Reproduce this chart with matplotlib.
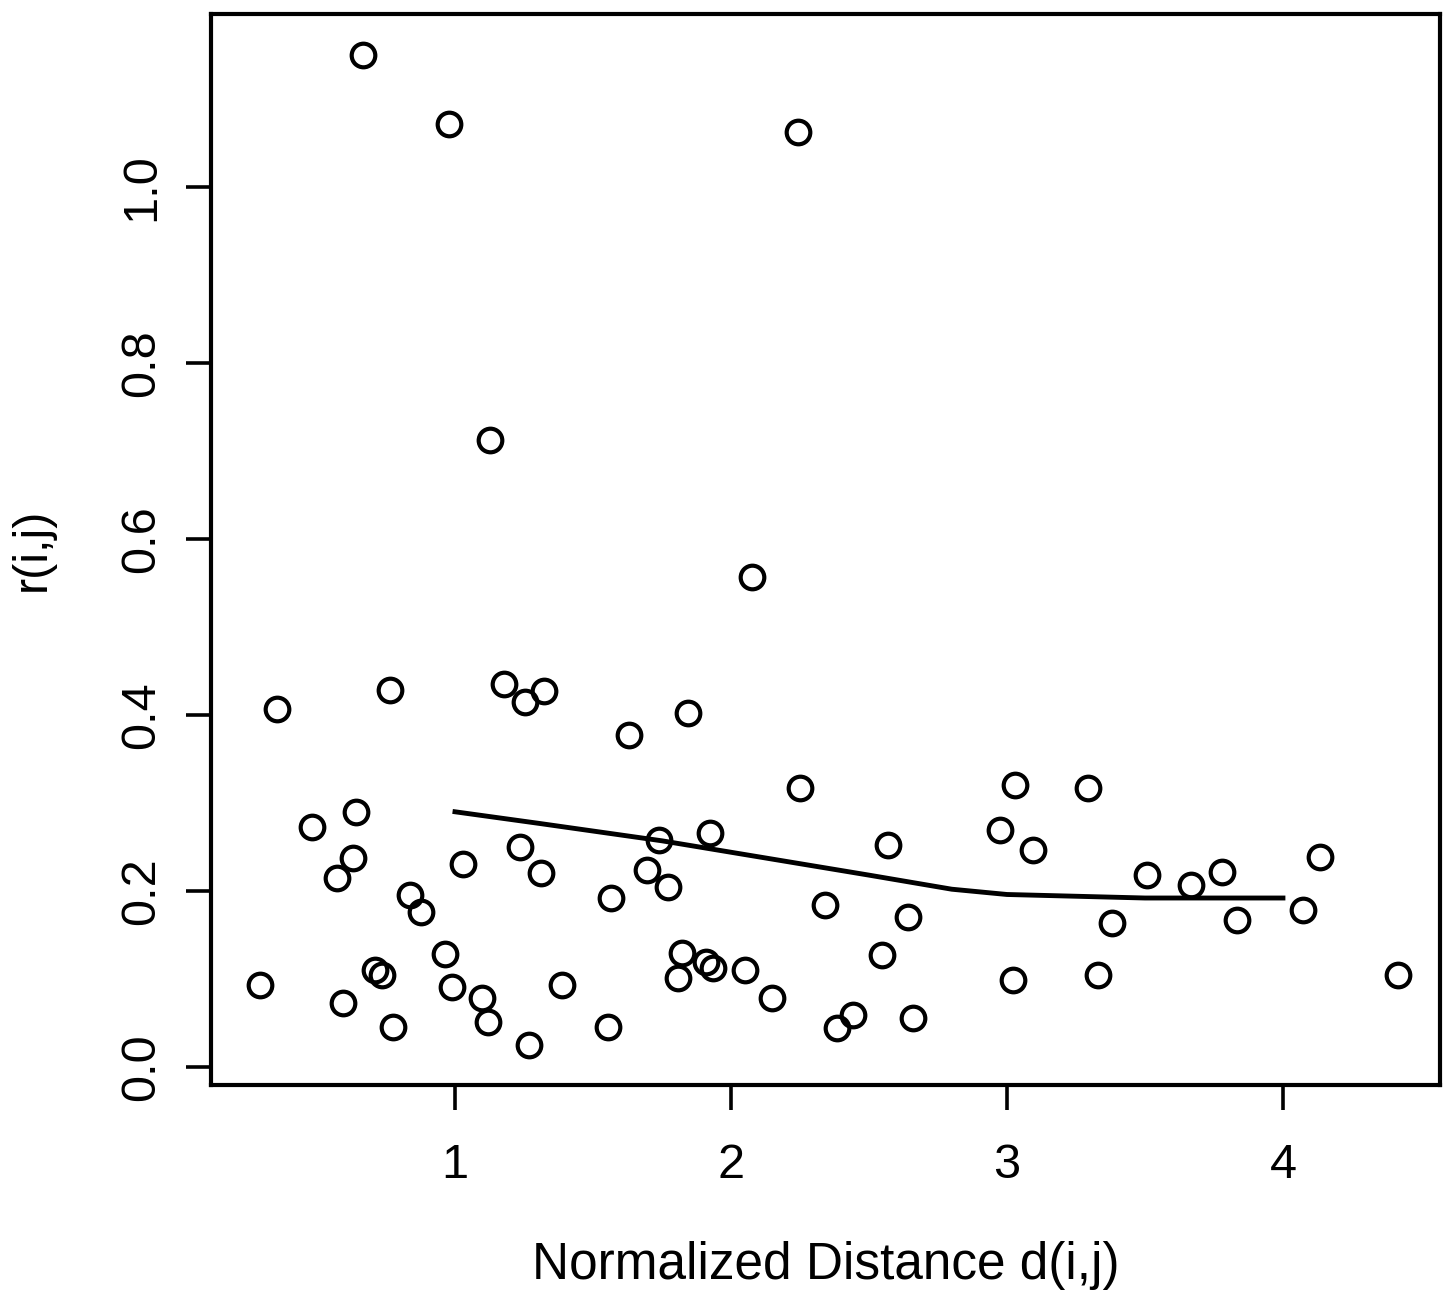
import matplotlib
matplotlib.use("Agg")
import matplotlib.pyplot as plt

# pairwise normalized distance vs. r(i,j)
dist = [0.293, 0.355, 0.482, 0.572, 0.594, 0.630, 0.641, 0.667, 0.710, 0.736,
        0.764, 0.775, 0.837, 0.877, 0.964, 0.978, 0.989, 1.029, 1.098, 1.120,
        1.127, 1.178, 1.236, 1.254, 1.268, 1.312, 1.322, 1.388, 1.554, 1.565,
        1.630, 1.696, 1.739, 1.772, 1.808, 1.822, 1.844, 1.909, 1.924, 1.935,
        2.051, 2.076, 2.149, 2.243, 2.250, 2.341, 2.384, 2.442, 2.547, 2.569,
        2.641, 2.659, 2.975, 3.022, 3.029, 3.094, 3.293, 3.330, 3.380, 3.507,
        3.667, 3.779, 3.833, 4.072, 4.134, 4.417]
r_ij = [0.093, 0.407, 0.273, 0.215, 0.073, 0.238, 0.290, 1.150, 0.110, 0.105,
        0.428, 0.045, 0.195, 0.176, 0.128, 1.072, 0.091, 0.231, 0.078, 0.051,
        0.713, 0.435, 0.250, 0.415, 0.025, 0.220, 0.427, 0.093, 0.045, 0.192,
        0.377, 0.224, 0.258, 0.205, 0.101, 0.130, 0.402, 0.119, 0.266, 0.113,
        0.110, 0.557, 0.078, 1.063, 0.317, 0.184, 0.044, 0.059, 0.127, 0.252,
        0.170, 0.056, 0.269, 0.099, 0.320, 0.247, 0.317, 0.105, 0.164, 0.218,
        0.207, 0.221, 0.167, 0.178, 0.239, 0.105]

# smoothed trend over 1 <= d <= 4
trend_d = [1.0, 1.3, 1.75, 2.0, 2.5, 2.65, 2.8, 3.0, 3.5, 4.0]
trend_r = [0.290, 0.277, 0.257, 0.244, 0.218, 0.210, 0.202, 0.196, 0.192, 0.192]

plt.rcParams.update({
    "font.family": ["Liberation Sans", "DejaVu Sans"],
    "font.size": 35,
})

fig = plt.figure(figsize=(14.5, 13), dpi=100)
ax = fig.add_axes([211/1450, 1 - 1085/1300, (1440 - 211)/1450, (1085 - 14)/1300])

ax.plot(dist, r_ij, linestyle="none", marker="o", markersize=17,
        markerfacecolor="none", markeredgecolor="black", markeredgewidth=3)
ax.plot(trend_d, trend_r, color="black", linewidth=3.5)

ax.set_xlim(0.116, 4.569)
ax.set_ylim(-0.0205, 1.1966)
ax.set_xticks([1, 2, 3, 4])
ax.set_yticks([0.0, 0.2, 0.4, 0.6, 0.8, 1.0])
ax.set_yticklabels(["0.0", "0.2", "0.4", "0.6", "0.8", "1.0"])

for s in ax.spines.values():
    s.set_linewidth(3)
ax.tick_params(axis="both", direction="out", length=18, width=2.6)
ax.tick_params(axis="x", pad=24)
ax.tick_params(axis="y", pad=16)
for lbl in ax.get_yticklabels():
    lbl.set_rotation(90)
    lbl.set_va("center")

ax.set_xlabel("Normalized Distance d(i,j)", fontsize=37, labelpad=38)
ax.set_ylabel("r(i,j)", fontsize=35, labelpad=46)

fig.savefig("out.png", dpi=100, facecolor="white")
